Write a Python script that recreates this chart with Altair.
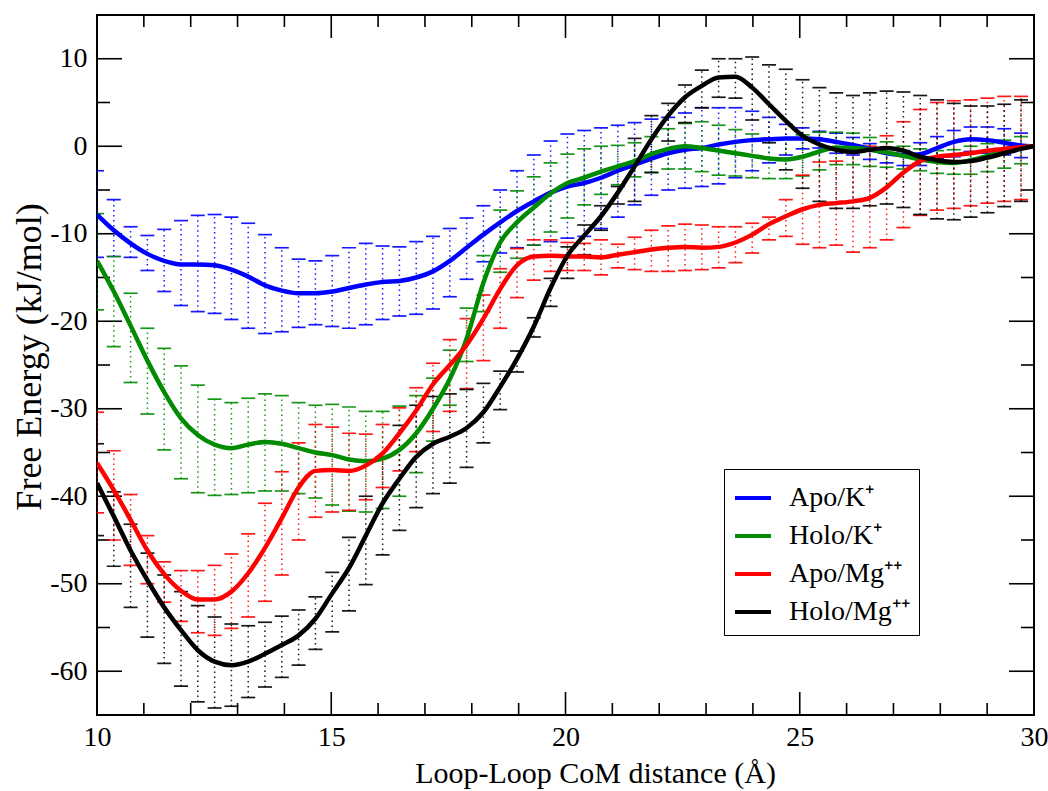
import altair as alt
import pandas as pd

SERIES = ["Apo/K⁺", "Holo/K⁺", "Apo/Mg⁺⁺", "Holo/Mg⁺⁺"]
COLORS = ["#0000ff", "#008b00", "#ff0000", "#000000"]

STEP = 0.3586
bar_x = [round(10 + k * STEP, 4) for k in range(56)]
line_x = bar_x + [30.0]

apo_k_line = [-7.8, -9.6, -11.1, -12.3, -13.1, -13.5, -13.5, -13.6, -14.1, -14.9,
              -15.9, -16.5, -16.8, -16.8, -16.6, -16.2, -15.8, -15.5, -15.4, -15.0,
              -14.3, -13.1, -11.6, -10.1, -8.7, -7.4, -6.3, -5.3, -4.6, -4.2,
              -3.6, -2.8, -2.1, -1.4, -0.8, -0.4, -0.2, 0.2, 0.5, 0.7,
              0.8, 0.9, 0.9, 0.8, 0.5, 0.15, -0.3, -0.8, -1.0, -0.9,
              -0.2, 0.5, 0.8, 0.7, 0.4, 0.1, 0.0]
apo_k_hi = [-2.8, -6.1, -9.2, -10.2, -9.5, -8.5, -7.9, -7.8, -8.1, -8.8,
            -10.1, -11.6, -12.9, -13.1, -12.5, -11.6, -11.1, -11.4, -11.5, -10.9,
            -10.3, -9.4, -8.2, -6.8, -5.0, -2.8, -1.0, 0.6, 1.4, 1.8,
            2.1, 2.4, 2.7, 3.1, 3.3, 3.8, 4.4, 4.4, 4.4, 4.0,
            3.3, 2.5, 2.1, 1.7, 1.5, 1.0, 0.3, -0.2, -0.5, 0.4,
            1.1, 1.8, 2.2, 2.2, 2.0, 1.5]
apo_k_lo = [-12.7, -12.6, -12.7, -14.2, -16.6, -18.2, -18.9, -19.1, -19.8, -20.8,
            -21.4, -21.2, -20.7, -20.4, -20.6, -20.8, -20.4, -19.8, -19.4, -19.2,
            -18.6, -17.2, -15.2, -13.2, -12.2, -11.6, -11.3, -10.9, -10.5, -10.3,
            -9.4, -8.1, -6.7, -5.6, -5.0, -4.8, -4.6, -4.3, -3.6, -2.8,
            -1.9, -1.0, -0.3, -0.2, -0.8, -1.0, -1.5, -1.9, -2.2, -2.2,
            -1.4, -1.2, -0.6, -0.8, -1.0, -1.3]

holo_k_line = [-13.1, -16.6, -20.5, -24.5, -28.1, -31.1, -33.0, -34.1, -34.5, -34.1,
               -33.8, -34.0, -34.5, -35.0, -35.3, -35.8, -36.0, -35.7, -34.7, -32.8,
               -30.0, -26.6, -22.0, -15.6, -11.0, -8.7, -7.0, -5.4, -4.2, -3.6,
               -2.9, -2.3, -1.7, -0.9, -0.3, 0.0, -0.2, -0.5, -0.8, -1.1,
               -1.4, -1.5, -1.2, -0.6, -0.15, -0.2, -0.4, -0.7, -1.1, -1.5,
               -1.8, -1.9, -1.6, -1.1, -0.6, -0.15, 0.0]
holo_k_hi = [-7.7, -12.6, -16.8, -20.8, -23.1, -25.1, -27.3, -28.9, -29.3, -28.8,
             -28.3, -28.5, -29.3, -29.6, -29.5, -29.8, -30.3, -30.3, -29.7, -28.5,
             -26.5, -23.3, -18.5, -12.5, -7.3, -5.1, -3.5, -1.9, -0.9, -0.3,
             0.0, 0.1, 0.4, 1.1, 2.0, 2.6, 2.8, 2.4, 1.9, 1.4,
             0.9, 0.8, 1.3, 1.6, 1.6, 1.5, 1.0, 0.5, 0.0, -0.3,
             -0.5, -0.4, 0.0, 0.3, 0.7, 1.1]
holo_k_lo = [-18.7, -22.9, -27.0, -30.6, -34.7, -38.0, -39.6, -39.9, -39.8, -39.6,
             -39.4, -39.4, -39.7, -40.2, -41.0, -41.7, -41.8, -41.4, -40.0, -37.3,
             -33.7, -29.6, -24.6, -18.9, -14.4, -12.8, -11.3, -9.8, -8.2, -6.7,
             -5.5, -4.4, -3.5, -3.0, -2.6, -2.6, -2.9, -3.3, -3.4, -3.6,
             -3.7, -3.7, -3.4, -2.7, -2.1, -2.1, -2.3, -2.4, -2.6, -2.8,
             -3.1, -3.2, -3.2, -2.9, -2.5, -2.0]

apo_mg_line = [-36.2, -39.3, -42.7, -46.2, -48.9, -50.8, -51.8, -51.8, -50.9, -48.8,
               -45.9, -42.5, -39.0, -37.1, -37.0, -37.1, -36.5, -35.1, -32.8, -30.2,
               -27.2, -25.0, -22.7, -19.7, -16.3, -13.6, -12.6, -12.5, -12.6, -12.6,
               -12.7, -12.4, -12.1, -11.8, -11.6, -11.5, -11.6, -11.5, -11.0, -10.1,
               -8.9, -8.0, -7.2, -6.7, -6.5, -6.3, -5.9, -4.7, -3.0, -1.7,
               -1.2, -1.0, -0.8, -0.5, -0.3, -0.1, 0.0]
apo_mg_hi = [-30.4, -34.8, -39.8, -44.5, -47.5, -48.5, -48.5, -47.9, -46.6, -44.3,
             -40.8, -37.2, -33.9, -31.8, -32.1, -32.8, -32.9, -31.8, -29.9, -27.6,
             -24.8, -22.1, -19.7, -17.0, -14.0, -11.7, -10.7, -10.7, -11.0, -11.1,
             -10.7, -11.2, -10.4, -9.6, -9.1, -8.9, -9.0, -9.2, -9.2, -8.8,
             -8.1, -6.1, -3.3, -1.8, -1.7, -0.5, 0.0, 1.2, 2.8, 4.2,
             5.0, 5.2, 5.3, 5.5, 5.7, 5.7]
apo_mg_lo = [-41.9, -45.0, -47.9, -50.0, -52.1, -54.3, -55.6, -55.9, -55.1, -53.8,
             -52.0, -49.0, -45.0, -42.4, -41.8, -41.6, -40.4, -39.0, -37.1, -34.9,
             -32.6, -30.3, -27.7, -24.5, -20.8, -17.3, -15.3, -14.3, -14.2, -14.2,
             -14.7, -13.9, -14.1, -14.3, -14.3, -14.2, -14.1, -13.9, -13.3, -12.2,
             -10.7, -10.3, -11.2, -11.6, -11.3, -12.1, -11.6, -10.7, -9.3, -7.9,
             -7.3, -7.1, -6.8, -6.5, -6.3, -6.1]

holo_mg_line = [-38.5, -42.3, -46.2, -49.6, -52.7, -55.3, -57.6, -58.9, -59.3, -58.9,
                -58.0, -57.0, -55.9, -54.0, -51.1, -48.2, -44.5, -40.8, -38.0, -35.5,
                -34.0, -33.2, -32.2, -30.4, -27.5, -24.3, -20.6, -16.2, -12.5, -10.2,
                -8.0, -5.3, -2.3, 0.8, 3.5, 5.6, 6.9, 7.85, 7.95, 6.7,
                4.8, 2.9, 1.2, 0.2, -0.4, -0.65, -0.4, -0.2, -0.5, -1.2,
                -1.6, -1.8, -1.7, -1.3, -0.8, -0.3, 0.0]
holo_mg_hi = [-34.0, -39.5, -43.2, -46.5, -49.0, -50.9, -52.5, -53.8, -54.6, -54.8,
              -54.4, -53.7, -53.0, -51.5, -48.7, -44.7, -40.0, -35.5, -31.9, -29.6,
              -28.6, -28.3, -27.8, -27.1, -25.7, -23.4, -19.6, -15.1, -11.5, -9.0,
              -6.8, -4.6, 0.9, 3.5, 4.9, 7.0, 8.7, 10.0, 10.0, 10.2,
              9.3, 8.8, 7.6, 6.7, 6.1, 5.8, 6.1, 6.3, 6.2, 5.8,
              5.3, 4.9, 4.6, 4.6, 4.8, 5.3]
holo_mg_lo = [-44.5, -48.0, -52.7, -56.1, -59.1, -61.7, -63.5, -64.2, -64.0, -63.0,
              -61.8, -60.7, -59.3, -57.5, -55.5, -53.1, -50.1, -46.7, -43.9, -41.3,
              -39.7, -38.5, -36.7, -33.9, -30.1, -25.8, -21.8, -18.3, -15.1, -12.4,
              -9.6, -6.6, -6.3, -3.0, 0.6, 2.7, 4.4, 5.6, 5.5, 3.0,
              0.4, -2.7, -4.8, -6.3, -7.1, -7.1, -6.8, -6.6, -7.0, -7.8,
              -8.3, -8.4, -8.1, -7.6, -6.9, -6.3]

x_major = [10, 15, 20, 25, 30]
x_minor = [11, 12, 13, 14, 16, 17, 18, 19, 21, 22, 23, 24, 26, 27, 28, 29]
y_major = [-60, -50, -40, -30, -20, -10, 0, 10]
y_minor = [-55, -45, -35, -25, -15, -5, 5]

X_TITLE = ["Loop-Loop CoM distance (Å)"]
Y_TITLE = ["Free Energy (kJ/mol)"]

LINES = [apo_k_line, holo_k_line, apo_mg_line, holo_mg_line]
HIS = [apo_k_hi, holo_k_hi, apo_mg_hi, holo_mg_hi]
LOS = [apo_k_lo, holo_k_lo, apo_mg_lo, holo_mg_lo]

W, H = 937, 700
FONT = "Liberation Serif"

x_scale = alt.Scale(domain=[10, 30], nice=False, zero=False)
y_scale = alt.Scale(domain=[-65, 15], nice=False, zero=False)
c_scale = alt.Scale(domain=SERIES, range=COLORS)

x_axis = alt.Axis(values=x_major, ticks=False, domain=False, grid=False,
                  labelFlush=False, labelPadding=8, title=None,
                  labelFont=FONT, labelFontSize=28, labelColor="black",
                  labelExpr="'' + datum.value")
y_axis = alt.Axis(values=y_major, ticks=False, domain=False, grid=False,
                  labelFlush=False, labelPadding=10, title=None,
                  labelFont=FONT, labelFontSize=28, labelColor="black",
                  labelExpr="'' + datum.value")


def X(f):
    return alt.X(f"{f}:Q", scale=x_scale, axis=x_axis, title=None)


def Y(f):
    return alt.Y(f"{f}:Q", scale=y_scale, axis=y_axis, title=None)


layers = []

# inward ticks on all four sides
xmaj = pd.DataFrame({"x": x_major})
xmin = pd.DataFrame({"x": x_minor})
ymaj = pd.DataFrame({"y": y_major})
ymin = pd.DataFrame({"y": y_minor})
tick_style = dict(color="black", strokeWidth=1.6)
for df, ln in ((xmaj, 23), (xmin, 12)):
    layers.append(alt.Chart(df).mark_rule(**tick_style).encode(
        x=X("x"), y=alt.value(H), y2=alt.value(H - ln)))
    layers.append(alt.Chart(df).mark_rule(**tick_style).encode(
        x=X("x"), y=alt.value(0), y2=alt.value(ln)))
for df, ln in ((ymaj, 25), (ymin, 13)):
    layers.append(alt.Chart(df).mark_rule(**tick_style).encode(
        y=Y("y"), x=alt.value(0), x2=alt.value(ln)))
    layers.append(alt.Chart(df).mark_rule(**tick_style).encode(
        y=Y("y"), x=alt.value(W), x2=alt.value(W - ln)))

# dotted error bars with caps, one colour per series
for name, color, his, los in zip(SERIES, COLORS, HIS, LOS):
    sub = pd.DataFrame({"x": bar_x, "hi": his, "lo": los})
    layers.append(alt.Chart(sub).mark_rule(color=color, strokeDash=[1.5, 3.5],
                                           strokeWidth=1.5, opacity=0.9,
                                           clip=True).encode(
        x=X("x"), y=Y("lo"), y2="hi:Q"))
    for f in ("hi", "lo"):
        layers.append(alt.Chart(sub).mark_tick(color=color, orient="horizontal",
                                               size=14, thickness=1.7,
                                               opacity=0.9, clip=True).encode(
            x=X("x"), y=Y(f)))

legend = alt.Legend(title=None, orient="none", legendX=627, legendY=454,
                    strokeColor="black", fillColor="white", padding=9,
                    labelFont=FONT, labelFontSize=28, labelColor="black",
                    symbolType="stroke", symbolStrokeWidth=4, symbolSize=1296,
                    rowPadding=4, labelOffset=16, labelLimit=0)

for name, vals in zip(SERIES, LINES):
    df = pd.DataFrame({"series": name, "x": line_x, "y": vals})
    layers.append(alt.Chart(df).mark_line(strokeWidth=4.5, interpolate="monotone",
                                          clip=True).encode(
        x=X("x"), y=Y("y"),
        color=alt.Color("series:N", scale=c_scale, legend=legend)))

# axis titles as text
layers.append(alt.Chart(pd.DataFrame({"t": X_TITLE})).mark_text(
    font=FONT, fontSize=30, color="black", align="center",
    baseline="alphabetic").encode(
    text="t:N", x=alt.value(W / 2 + 30), y=alt.value(H + 68)))
layers.append(alt.Chart(pd.DataFrame({"t": Y_TITLE})).mark_text(
    font=FONT, fontSize=36, color="black", align="center",
    baseline="alphabetic", angle=270).encode(
    text="t:N", x=alt.value(-56), y=alt.value(342)))

chart = alt.layer(*layers).properties(
    width=W, height=H,
    autosize=alt.AutoSizeParams(type="none"),
    padding={"left": 97, "top": 15, "right": 14, "bottom": 76},
    background="white",
).configure_view(
    stroke="black", strokeWidth=2
).configure_axis(
    labelFont=FONT, labelFontSize=28, labelColor="black"
).configure_legend(
    labelFont=FONT, labelFontSize=28, labelColor="black"
)

chart.save("out.html", embed_options={"renderer": "svg", "actions": False})
